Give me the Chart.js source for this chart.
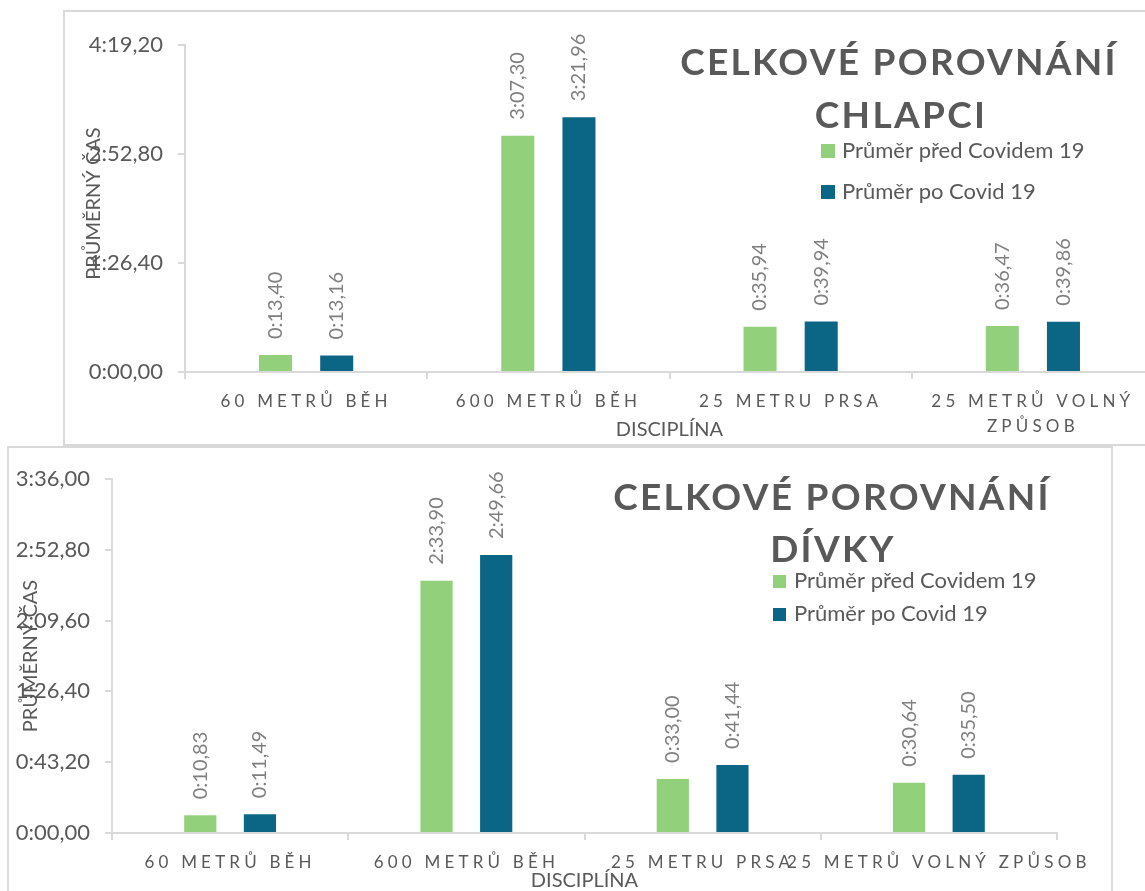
<!DOCTYPE html>
<html lang="cs">
<head>
<meta charset="UTF-8">
<title>Celkové porovnání</title>
<script src="https://cdn.jsdelivr.net/npm/chart.js"></script>
<style>
    html, body { margin: 0; padding: 0; overflow: hidden; background: #fff; width: 1145px; height: 891px; }
    .ramecek { position: absolute; border: 2px solid #d9d9d9; background: #fff; }
    #ramecekChlapci { left: 63px; top: 10px; width: 1115px; height: 432px; }
    #ramecekDivky { left: 7px; top: 446px; width: 1102px; height: 450px; }
    canvas { display: block; }
</style>
</head>
<body>
<div class="ramecek" id="ramecekChlapci"><canvas id="chlapciChart" width="1115" height="432"></canvas></div>
<div class="ramecek" id="ramecekDivky"><canvas id="divkyChart" width="1102" height="450"></canvas></div>

<script>
    // data (časy v sekundách)
    const kategorieChlapci = ['60 METRŮ BĚH', '600 METRŮ BĚH', '25 METRU PRSA', ['25 METRŮ VOLNÝ', 'ZPŮSOB']];
    const kategorieDivky = ['60 METRŮ BĚH', '600 METRŮ BĚH', '25 METRU PRSA', '25 METRŮ VOLNÝ ZPŮSOB'];
    const serie = ['Průměr před Covidem 19', 'Průměr po Covid 19'];
    const chlapciPred = [13.40, 187.30, 35.94, 36.47];
    const chlapciPo = [13.16, 201.96, 39.94, 39.86];
    const divkyPred = [10.83, 153.90, 33.00, 30.64];
    const divkyPo = [11.49, 169.66, 41.44, 35.50];
    const osaChlapci = [0, 86.4, 172.8, 259.2];
    const osaDivky = [0, 43.2, 86.4, 129.6, 172.8, 216];

    const ZELENA = '#92d07b';
    const MODRA = '#0b6685';
    const SEDA = '#595959';
    const PISMO = 'Lato';

    // 187.3 -> "3:07,30"
    function cas(s) {
        const m = Math.floor(s / 60 + 1e-9);
        const r = s - m * 60;
        let t = r.toFixed(2).replace('.', ',');
        if (r < 10) t = '0' + t;
        return m + ':' + t;
    }

    // popisky hodnot, nadpis, legenda a názvy os
    const popisky = {
        id: 'popisky',
        afterDatasetsDraw(chart) {
            const ctx = chart.ctx;
            ctx.save();
            ctx.font = '20px ' + PISMO;
            ctx.fillStyle = '#7f7f7f';
            ctx.textAlign = 'left';
            ctx.textBaseline = 'middle';
            chart.data.datasets.forEach((ds, i) => {
                chart.getDatasetMeta(i).data.forEach((bar, j) => {
                    ctx.save();
                    ctx.translate(bar.x, bar.y - 16);
                    ctx.rotate(-Math.PI / 2);
                    ctx.fillText(cas(ds.data[j]), 0, 0);
                    ctx.restore();
                });
            });
            ctx.restore();
            // popisky kategorií (ticks.z = 1) se kreslí až potom, s prostrkáním
            ctx.letterSpacing = '4.2px';
        },
        afterDraw(chart, args, o) {
            const ctx = chart.ctx;
            const area = chart.chartArea;
            ctx.letterSpacing = '0px';
            ctx.save();
            ctx.fillStyle = SEDA;

            // nadpis
            ctx.font = 'bold 37px ' + PISMO;
            ctx.letterSpacing = '2.3px';
            ctx.textAlign = 'center';
            ctx.textBaseline = 'alphabetic';
            o.nadpis.forEach((radek, i) => ctx.fillText(radek, o.nadpisX[i], o.nadpisY[i]));
            ctx.letterSpacing = '0px';

            // legenda
            ctx.font = '22px ' + PISMO;
            ctx.textAlign = 'left';
            chart.data.datasets.forEach((ds, i) => {
                const y = o.legendaY + i * o.legendaKrok;
                ctx.fillStyle = ds.backgroundColor;
                ctx.fillRect(o.legendaX, y - o.ctverec, o.ctverec, o.ctverec);
                ctx.fillStyle = SEDA;
                ctx.fillText(ds.label, o.legendaX + 21, y);
            });

            // názvy os
            ctx.font = '20px ' + PISMO;
            ctx.textAlign = 'center';
            ctx.fillText('DISCIPLÍNA', (area.left + area.right) / 2, o.osaXY);
            ctx.translate(o.osaYX, (area.top + area.bottom) / 2 + o.osaYPosun);
            ctx.rotate(-Math.PI / 2);
            ctx.fillText('PRŮMĚRNÝ ČAS', 0, 0);
            ctx.restore();
        }
    };

    function vytvorGraf(id, kategorie, pred, po, osa, sirkaY, vyskaX, odsazeni, nastaveni) {
        return new Chart(document.getElementById(id), {
            type: 'bar',
            data: {
                labels: kategorie,
                datasets: [
                    { label: serie[0], data: pred, backgroundColor: ZELENA },
                    { label: serie[1], data: po, backgroundColor: MODRA }
                ]
            },
            options: {
                responsive: false,
                animation: false,
                devicePixelRatio: 1,
                categoryPercentage: 0.505,
                barPercentage: 0.54,
                layout: { padding: odsazeni },
                plugins: {
                    legend: { display: false },
                    title: { display: false },
                    tooltip: { enabled: false },
                    popisky: nastaveni
                },
                scales: {
                    x: {
                        grid: { drawOnChartArea: false, tickLength: 7, color: '#d9d9d9', lineWidth: 2 },
                        border: { color: '#d9d9d9', width: 2 },
                        ticks: {
                            z: 1, color: SEDA, padding: 10, maxRotation: 0, minRotation: 0, autoSkip: false,
                            font: { family: PISMO, size: 17, lineHeight: 1.46 }
                        },
                        afterFit(scale) { scale.height = vyskaX; }
                    },
                    y: {
                        min: osa[0],
                        max: osa[osa.length - 1],
                        grid: { drawOnChartArea: false, tickLength: 7, color: '#d9d9d9', lineWidth: 2 },
                        border: { color: '#d9d9d9', width: 2 },
                        ticks: {
                            color: SEDA, padding: 15,
                            font: { family: PISMO, size: 22 },
                            callback: v => cas(v)
                        },
                        afterBuildTicks(scale) { scale.ticks = osa.map(v => ({ value: v })); },
                        afterFit(scale) { scale.width = sirkaY; }
                    }
                }
            },
            plugins: [popisky]
        });
    }

    vytvorGraf('chlapciChart', kategorieChlapci, chlapciPred, chlapciPo, osaChlapci, 120, 72,
        { left: 0, top: 33, right: 26, bottom: 0 },
        {
            nadpis: ['CELKOVÉ POROVNÁNÍ', 'CHLAPCI'], nadpisX: [834, 836], nadpisY: [63, 116],
            legendaX: 756, legendaY: 146, legendaKrok: 41, ctverec: 14,
            osaXY: 424, osaYX: 35, osaYPosun: -5
        });

    vytvorGraf('divkyChart', kategorieDivky, divkyPred, divkyPo, osaDivky, 103, 65,
        { left: 0, top: 31, right: 54, bottom: 0 },
        {
            nadpis: ['CELKOVÉ POROVNÁNÍ', 'DÍVKY'], nadpisX: [823, 824], nadpisY: [62, 114],
            legendaX: 764, legendaY: 140, legendaKrok: 33, ctverec: 13,
            osaXY: 439, osaYX: 28, osaYPosun: 0
        });
</script>
</body>
</html>
